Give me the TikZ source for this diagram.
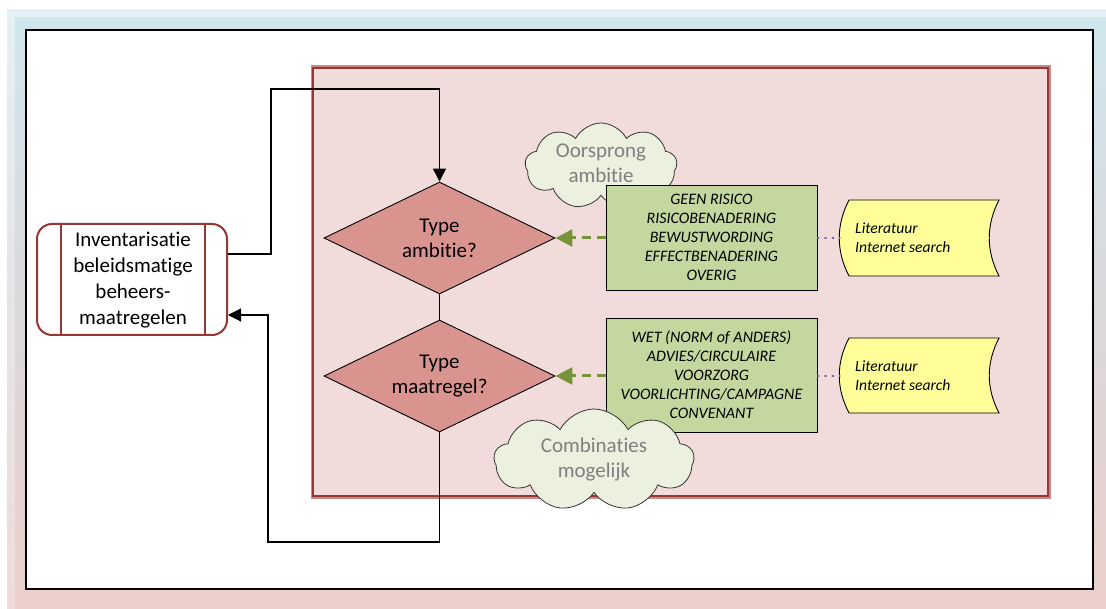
\documentclass[tikz,border=0pt]{standalone}
\usepackage{fontspec}
\setmainfont[Ligatures={NoCommon,NoRequired,NoContextual,NoRare}]{Carlito}
\usetikzlibrary{shapes.symbols,shapes.geometric,arrows.meta}
\definecolor{bgblueA}{HTML}{E2F1F6}
\definecolor{bgblueB}{HTML}{D0E6ED}
\definecolor{bgpinkA}{HTML}{EFDCD9}
\definecolor{bgpinkB}{HTML}{EBCFCB}
\definecolor{bgmid}{HTML}{E6E3E6}
\definecolor{darkred}{HTML}{953735}
\definecolor{lightred}{HTML}{C98A87}
\definecolor{panelfill}{HTML}{F2DCDB}
\definecolor{diafill}{HTML}{D99490}
\definecolor{greenfill}{HTML}{C4D79F}
\definecolor{greenarrow}{HTML}{77933C}
\definecolor{cloudfill}{HTML}{EBF1DE}
\definecolor{yellowfill}{HTML}{FFFF99}
\definecolor{dotpurple}{HTML}{8064A2}
\definecolor{cloudtext}{HTML}{808080}
\tikzset{
  conn/.style={draw=black, line width=1.2pt},
  decision/.style={diamond, draw=black, line width=0.9pt, fill=diafill, minimum width=231pt, minimum height=112pt, inner sep=0pt},
  dectext/.style={align=center, inner sep=0pt, font=\fontsize{21}{25}\selectfont},
  listbox/.style={rectangle, draw=black, line width=0.9pt, fill=greenfill, minimum width=211pt, align=center, inner sep=0pt, font=\fontsize{16}{19}\selectfont\itshape},
  thought/.style={cloud, cloud puffs=9, cloud puff arc=125, aspect=1.8, draw=black!80, line width=0.8pt, fill=cloudfill, inner sep=0pt},
  cloudlabel/.style={align=center, inner sep=0pt, text=cloudtext, font=\fontsize{21}{25}\selectfont},
  docshape/.style={draw=black, line width=0.9pt, fill=yellowfill},
  doctext/.style={align=left, inner sep=0pt, font=\fontsize{15.6}{19}\selectfont\itshape},
  greenlink/.style={draw=greenarrow, line width=3pt, dash pattern=on 9pt off 6pt, -{Triangle[width=17pt,length=17pt]}},
  purplelink/.style={draw=dotpurple, line width=1.4pt, dash pattern=on 1.4pt off 6pt, line cap=round},
}
\begin{document}
\begin{tikzpicture}[x=1pt,y=-1pt]
\useasboundingbox (0,0) rectangle (1106,609);
% background
\shade[top color=bgblueA, bottom color=bgpinkA, middle color=bgmid] (7,10) rectangle (1106,609);
\shade[top color=bgblueB, bottom color=bgpinkB, middle color=bgmid!95!black] (15,18) rectangle (1106,609);
\draw[draw=black, fill=white, line width=1.2pt] (26,30) rectangle (1093,589);
% red panel
\draw[draw=lightred, line width=5pt] (313,68) rectangle (1048,496);
\draw[draw=darkred, fill=panelfill, line width=2.6pt] (313,68) rectangle (1048,496);
% left box
\node[rectangle, rounded corners=15pt, draw=darkred, line width=2pt, fill=white, minimum width=190pt, minimum height=111pt] (lb) at (132,279.5) {};
\draw[draw=darkred, line width=2pt] (lb.north west -| 61,0) -- (lb.south west -| 61,0);
\draw[draw=darkred, line width=2pt] (lb.north east -| 205,0) -- (lb.south east -| 205,0);
\node[align=center, inner sep=0pt, font=\fontsize{21}{26}\selectfont] (lbt) at (133,280) {Inventarisatie\\beleidsmatige\\beheers-\\maatregelen};
% clouds (first one behind the list box)
\node[thought, minimum width=152pt, minimum height=86pt] (c1) at (601,166) {};
\node[cloudlabel] (c1t) at (601,163) {Oorsprong\\ambitie};
% decisions
\node[decision] (d1) at (439.5,238) {};
\node[dectext] (d1t) at (d1.center) {Type\\ambitie?};
\node[decision] (d2) at (439.5,376) {};
\node[dectext] (d2t) at (d2.center) {Type\\maatregel?};
% list boxes
\node[listbox, minimum height=105pt] (g1) at (711.5,237.5) {GEEN RISICO\\RISICOBENADERING\\BEWUSTWORDING\\EFFECTBENADERING\\OVERIG};
\node[listbox, minimum height=114pt] (g2) at (711.5,375) {WET (NORM of ANDERS)\\ADVIES/CIRCULAIRE\\VOORZORG\\VOORLICHTING/CAMPAGNE\\CONVENANT};
% second cloud over list box
\node[thought, minimum width=200pt, minimum height=102pt] (c2) at (594,460) {};
\node[cloudlabel] (c2t) at (c2.center) {Combinaties\\mogelijk};
% document shapes
\draw[docshape] (849,200) -- (999,200) .. controls (986,225) and (986,251) .. (999,276) -- (849,276) .. controls (836,251) and (836,225) .. (849,200) -- cycle;
\coordinate (y1) at (840,238);
\node[doctext, anchor=west] (t1) at (855,238) {Literatuur\\Internet search};
\draw[docshape] (849,338) -- (999,338) .. controls (986,363) and (986,388) .. (999,413) -- (849,413) .. controls (836,388) and (836,363) .. (849,338) -- cycle;
\coordinate (y2) at (840,376);
\node[doctext, anchor=west] (t2) at (855,376) {Literatuur\\Internet search};
% links
\draw[greenlink] (g1.west |- d1.east) -- (d1.east);
\draw[greenlink] (g2.west |- d2.east) -- (d2.east);
\draw[purplelink] (g1.east |- y1) -- (y1);
\draw[purplelink] (g2.east |- y2) -- (y2);
% flow connectors
\draw[conn, -{Triangle[width=13pt,length=13pt]}] ([yshift=25.5pt]lb.east) -- (271,254) -- (271,89) -- (d1.north |- 0,89) -- (d1.north);
\draw[conn] (d1.south) -- (d2.north);
\draw[conn, -{Triangle[width=13pt,length=13pt]}] (d2.south) -- (d2.south |- 0,542) -- (268,542) -- (268,315) -- ([yshift=-35.5pt]lb.east);
\end{tikzpicture}
\end{document}
